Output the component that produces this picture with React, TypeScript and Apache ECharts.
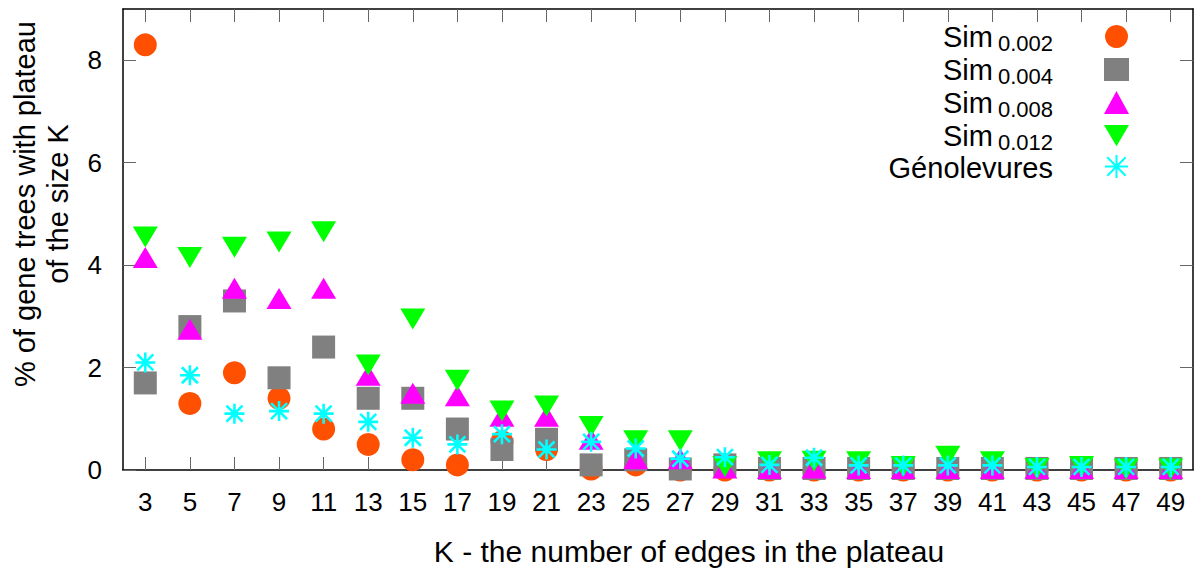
import React, { useEffect, useRef } from "react";
import * as echarts from "echarts";

const kValues = [3, 5, 7, 9, 11, 13, 15, 17, 19, 21, 23, 25, 27, 29, 31, 33, 35, 37, 39, 41, 43, 45, 47, 49];
const sim002 = [8.3, 1.3, 1.9, 1.4, 0.8, 0.5, 0.2, 0.1, 0.55, 0.4, 0.02, 0.1, 0, 0, 0, 0, 0, 0, 0, 0, 0, 0, 0, 0];
const sim004 = [1.7, 2.8, 3.3, 1.8, 2.4, 1.4, 1.4, 0.8, 0.4, 0.6, 0.1, 0.2, 0.02, 0.1, 0.03, 0.03, 0.03, 0.03, 0.03, 0.03, 0.03, 0.03, 0.03, 0.03];
const sim008 = [4.15, 2.75, 3.55, 3.35, 3.55, 1.85, 1.5, 1.45, 1.05, 1.05, 0.6, 0.22, 0.22, 0.04, 0.03, 0.04, 0.03, 0.03, 0.03, 0.03, 0.03, 0.03, 0.03, 0.03];
const sim012 = [4.55, 4.15, 4.35, 4.45, 4.65, 2.05, 2.95, 1.75, 1.15, 1.25, 0.85, 0.57, 0.57, 0.07, 0.16, 0.17, 0.16, 0.07, 0.27, 0.16, 0.03, 0.07, 0.02, 0.02];
const genolevures = [2.1, 1.85, 1.1, 1.15, 1.1, 0.94, 0.63, 0.5, 0.7, 0.4, 0.55, 0.42, 0.22, 0.25, 0.1, 0.24, 0.09, 0.09, 0.09, 0.09, 0.06, 0.06, 0.06, 0.06];

const xTickValues = kValues;
const yTickValues = [0, 2, 4, 6, 8];

const seriesNames = ["Sim_0.002", "Sim_0.004", "Sim_0.008", "Sim_0.012", "Génolevures"];
const seriesValues = [sim002, sim004, sim008, sim012, genolevures];

const xTitle = "K - the number of edges in the plateau";
const yTitle = "% of gene trees with plateau\nof the size K";

const FONT = '"Liberation Sans", Arial, sans-serif';

const downTriangle = "path://M0,0 L2,0 L1,1.7 Z";
const asterisk = "path://M1,0 L1,2 M0,1 L2,1 M0.2,0.2 L1.8,1.8 M0.2,1.8 L1.8,0.2";

const styles = [
  { symbol: "circle", size: 23, color: "#ff4f00" },
  { symbol: "rect", size: 23, color: "#808080" },
  { symbol: "triangle", size: [25, 21], color: "#ff00ff" },
  { symbol: downTriangle, size: [25, 21], color: "#00ff00" },
  { symbol: asterisk, size: [20, 20], color: "#00ffff", stroke: true },
];

export default function App() {
  const ref = useRef<HTMLDivElement>(null);

  useEffect(() => {
    document.body.style.margin = "0";
    if (!ref.current) return;
    const chart = echarts.init(ref.current, undefined, { renderer: "svg" });

    const series = seriesNames.map((name, i) => {
      const st = styles[i];
      return {
        name,
        type: "scatter",
        xAxisIndex: 0,
        yAxisIndex: 0,
        clip: false,
        symbol: st.symbol,
        symbolSize: st.size,
        symbolKeepAspect: false,
        itemStyle: st.stroke
          ? { color: st.color, borderColor: st.color, borderWidth: 2.6, opacity: 1 }
          : { color: st.color, opacity: 1 },
        emphasis: { disabled: true },
        data: kValues.map((k, j) => [k, seriesValues[i][j]]),
      };
    });

    const tickStyle = { color: "#666", width: 1 };

    chart.setOption({
      animation: false,
      grid: { left: 123, right: 7, top: 9, bottom: 98, containLabel: false },
      xAxis: [
        {
          type: "value",
          min: 2,
          max: 50,
          position: "bottom",
          axisLine: { show: true, onZero: false, lineStyle: { color: "#000", width: 1.5 } },
          axisTick: { show: true, inside: true, length: 13, lineStyle: tickStyle, customValues: xTickValues },
          axisLabel: {
            show: true,
            customValues: xTickValues,
            fontFamily: FONT,
            fontSize: 26,
            color: "#000",
            margin: 19,
          },
          splitLine: { show: false },
        },
        {
          type: "value",
          min: 2,
          max: 50,
          position: "top",
          axisLine: { show: true, onZero: false, lineStyle: { color: "#000", width: 1.5 } },
          axisTick: { show: true, inside: true, length: 13, lineStyle: tickStyle, customValues: xTickValues },
          axisLabel: { show: false },
          splitLine: { show: false },
        },
      ],
      yAxis: [
        {
          type: "value",
          min: 0,
          max: 9,
          position: "left",
          axisLine: { show: true, onZero: false, lineStyle: { color: "#000", width: 1.5 } },
          axisTick: { show: true, inside: true, length: 13, lineStyle: tickStyle, customValues: yTickValues },
          axisLabel: {
            show: true,
            customValues: yTickValues,
            fontFamily: FONT,
            fontSize: 26,
            color: "#000",
            margin: 21,
          },
          splitLine: { show: false },
        },
        {
          type: "value",
          min: 0,
          max: 9,
          position: "right",
          axisLine: { show: true, onZero: false, lineStyle: { color: "#000", width: 1.5 } },
          axisTick: { show: true, inside: true, length: 13, lineStyle: tickStyle, customValues: yTickValues },
          axisLabel: { show: false },
          splitLine: { show: false },
        },
      ],
      legend: {
        orient: "vertical",
        right: 71,
        top: 19,
        padding: 0,
        itemGap: -2,
        itemWidth: 25,
        itemHeight: 23,
        align: "right",
        selectedMode: false,
        data: seriesNames,
        formatter: (name: string) => {
          const parts = name.split("_");
          if (parts.length === 2) return `{a|${parts[0]}}{b|${parts[1]}}`;
          return `{g|${name}}`;
        },
        textStyle: {
          fontFamily: FONT,
          fontSize: 29,
          color: "#000",
          lineHeight: 28,
          padding: [0, 46, 0, 0],
          rich: {
            a: { fontFamily: FONT, fontSize: 29, lineHeight: 28, color: "#000" },
            b: {
              fontFamily: FONT,
              fontSize: 22,
              lineHeight: 28,
              padding: [13, 0, 0, 5],
              color: "#000",
            },
            g: { fontFamily: FONT, fontSize: 29, lineHeight: 14, padding: [2, 0, 0, 0], color: "#000" },
          },
        },
      },
      graphic: [
        {
          type: "text",
          x: 689,
          y: 551,
          style: {
            text: xTitle,
            fontFamily: FONT,
            fontSize: 30,
            fill: "#000",
            align: "center",
            verticalAlign: "middle",
            textAlign: "center",
            textVerticalAlign: "middle",
          },
        },
        {
          type: "text",
          x: 41.5,
          y: 204,
          rotation: Math.PI / 2,
          style: {
            text: yTitle,
            fontFamily: FONT,
            fontSize: 29,
            lineHeight: 33,
            fill: "#000",
            align: "center",
            verticalAlign: "middle",
            textAlign: "center",
            textVerticalAlign: "middle",
          },
        },
      ],
      series,
    });

    return () => chart.dispose();
  }, []);

  return <div ref={ref} style={{ width: 1200, height: 568 }} />;
}
